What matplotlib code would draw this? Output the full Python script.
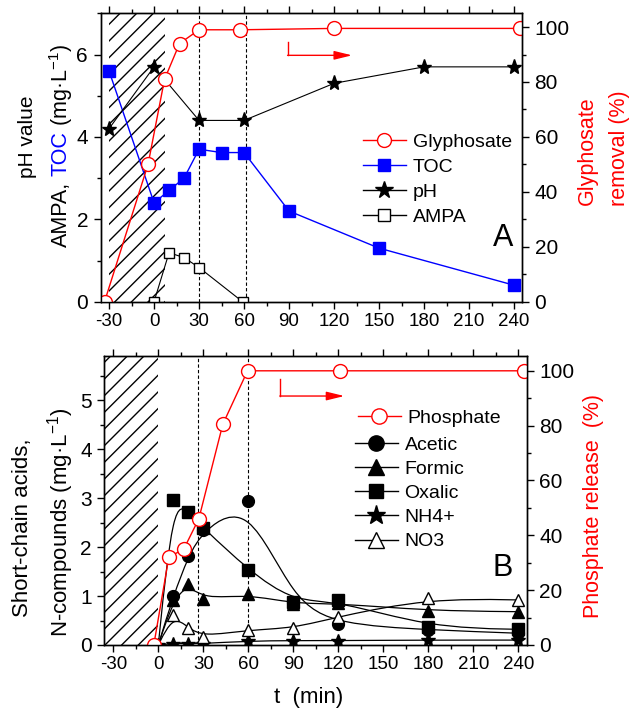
import matplotlib.pyplot as plt
from matplotlib.lines import Line2D
from matplotlib.path import Path
from matplotlib.patches import PathPatch

plt.rcParams['font.family'] = ['Liberation Sans', 'DejaVu Sans']
plt.rcParams['mathtext.fontset'] = 'custom'
plt.rcParams['mathtext.rm'] = 'Liberation Sans'
plt.rcParams['axes.unicode_minus'] = False
plt.rcParams['hatch.linewidth'] = 1.0

# ---- panel A data (t in min) ----
gly_t = [-33, -4, 7, 17, 30, 57.5, 120, 244]
gly_v = [0, 50, 81, 94, 99, 99, 99.5, 99.5]          # glyphosate removal %
toc_t = [-30, 0, 10, 20, 30, 45, 60, 90, 150, 240]
toc_v = [5.6, 2.4, 2.7, 3.0, 3.7, 3.62, 3.62, 2.2, 1.3, 0.4]
ph_t = [-30, 0, 30, 60, 120, 180, 240]
ph_v = [4.2, 5.7, 4.4, 4.4, 5.3, 5.7, 5.7]
ampa_t = [0, 10, 20, 30, 59]
ampa_v = [0, 1.19, 1.07, 0.83, 0]

# ---- panel B data ----
tb = [0, 10, 20, 30, 60, 90, 120, 180, 240]
acetic = [0, 1.0, 1.81, 2.35, 2.94, 0.88, 0.42, 0.31, 0.24]
formic = [0, 0.92, 1.25, 0.93, 1.04, 0.84, 0.85, 0.70, 0.68]
oxalic = [0, 2.97, 2.71, 2.39, 1.53, 0.88, 0.91, 0.36, 0.32]
nh4 = [0, 0.03, 0.03, 0.03, 0.08, 0.09, 0.09, 0.10, 0.10]
no3 = [0, 0.61, 0.35, 0.17, 0.31, 0.34, 0.58, 0.95, 0.92]
phos_t = [-3, 7, 17, 27, 43, 59.5, 121, 244]
phos_v = [0, 32, 35, 46, 80.5, 100, 100, 100]       # phosphate release %

W, H = 629, 713


def fx(x):
    return x / W


def fy(y):
    return 1 - y / H


def bspline(ax, x, y, **kw):
    # Origin-like B-spline connection, data points as control polygon
    p = [(x[0], y[0])] * 2 + list(zip(x, y)) + [(x[-1], y[-1])] * 2
    verts = [((p[0][0] + 4 * p[1][0] + p[2][0]) / 6, (p[0][1] + 4 * p[1][1] + p[2][1]) / 6)]
    codes = [Path.MOVETO]
    for i in range(len(p) - 3):
        a, b, c, d = p[i], p[i + 1], p[i + 2], p[i + 3]
        verts += [((2 * b[0] + c[0]) / 3, (2 * b[1] + c[1]) / 3),
                  ((b[0] + 2 * c[0]) / 3, (b[1] + 2 * c[1]) / 3),
                  ((b[0] + 4 * c[0] + d[0]) / 6, (b[1] + 4 * c[1] + d[1]) / 6)]
        codes += [Path.CURVE4] * 3
    ax.add_patch(PathPatch(Path(verts, codes), fill=False, **kw))


def style(ax, ax2, xlim, ylim, ymaj, ymin, rlim):
    ax.set_xlim(xlim)
    ax.set_ylim(ylim)
    ax2.set_ylim(rlim)
    ax.set_xticks(range(-30, 241, 30))
    ax.set_xticks(range(-30, 246, 15), minor=True)
    ax.set_yticks([i * ymaj for i in range(int(ylim[1] / ymaj) + 1)])
    ax.set_yticks([i * ymin for i in range(int(ylim[1] / ymin) + 1)], minor=True)
    ax2.set_yticks(range(0, 101, 20))
    ax2.set_yticks(range(0, 101, 10), minor=True)
    ax.tick_params(axis='x', which='both', direction='out', top=True, labelsize=13.5, pad=3)
    ax.tick_params(axis='y', which='both', direction='out', right=False, labelsize=15, pad=4)
    ax2.tick_params(axis='y', which='both', direction='out', labelsize=15, pad=4)
    for a in (ax, ax2):
        a.tick_params(which='major', length=5, width=1)
        a.tick_params(which='minor', length=3, width=1)
        for s in a.spines.values():
            s.set_linewidth(1)


def red_arrow(ax2, x0, x1, ytop, y):
    ax2.plot([x0, x0], [ytop, y], color='red', lw=1)
    ax2.annotate('', xy=(x1, y), xytext=(x0, y),
                 arrowprops=dict(arrowstyle='-|>,head_length=0.9,head_width=0.22', color='red',
                                 lw=1, mutation_scale=12, shrinkA=0, shrinkB=0))


fig = plt.figure(figsize=(W / 100, H / 100), dpi=100)

# ================= panel A =================
axA = fig.add_axes([fx(100.5), fy(301.7), 421.5 / W, 288.4 / H])
axA2 = axA.twinx()
style(axA, axA2, (-35.7, 245.3), (0, 7), 2, 1, (0, 105))

axA.axvspan(-30, 7, facecolor='none', edgecolor='black', hatch='//', lw=0, zorder=0)
for xv in (30, 61):
    axA.axvline(xv, color='black', ls=(0, (3, 2)), lw=0.8, zorder=1)

axA.plot(toc_t, toc_v, color='blue', lw=1, marker='s', ms=8, mfc='blue', mec='blue', zorder=3)
axA.plot(ph_t, ph_v, color='black', lw=0.8, marker='*', ms=11, zorder=3)
axA.plot(ampa_t, ampa_v, color='black', lw=0.8, marker='s', ms=7, mfc='white', mec='black', zorder=3)
axA2.plot(gly_t, gly_v, color='red', lw=1, marker='o', ms=10, mfc='white', mec='red', mew=1)
red_arrow(axA2, 89, 132, 94.5, 89.7)

hA = [Line2D([], [], color='red', lw=1, marker='o', ms=10, mfc='white', mec='red'),
      Line2D([], [], color='blue', lw=1, marker='s', ms=9, mfc='blue', mec='blue'),
      Line2D([], [], color='black', lw=1, marker='*', ms=13),
      Line2D([], [], color='black', lw=1, marker='s', ms=9, mfc='white', mec='black')]
axA2.legend(hA, ['Glyphosate', 'TOC', 'pH', 'AMPA'], loc='upper left',
            bbox_to_anchor=(fx(363), fy(133)), bbox_transform=fig.transFigure,
            frameon=False, fontsize=14, handlelength=2.2, handletextpad=0.35,
            labelspacing=0.39, borderpad=0, borderaxespad=0)
fig.text(fx(503), fy(238), 'A', fontsize=22, ha='center', va='center')

# left / right labels A
fig.text(fx(28), fy(137), 'pH value', rotation=90, fontsize=15, ha='center', va='center')
t1 = fig.text(fx(61), fy(247), 'AMPA,', rotation=90, fontsize=15.5, ha='center', va='bottom')
t2 = axA.annotate('TOC', xy=(0.5, 1), xycoords=t1, xytext=(0, 4), textcoords='offset points',
                  rotation=90, fontsize=15.5, ha='center', va='bottom', color='blue')
axA.annotate('(mg·L$^{-1}$)', xy=(0.5, 1), xycoords=t2, xytext=(0, 4), textcoords='offset points',
             rotation=90, fontsize=15.5, ha='center', va='bottom')
fig.text(fx(587), fy(151), 'Glyphosate', rotation=90, fontsize=15.5, color='red', ha='center', va='center')
fig.text(fx(619), fy(148), 'removal (%)', rotation=90, fontsize=15.5, color='red', ha='center', va='center')

# ================= panel B =================
axB = fig.add_axes([fx(104.3), fy(645), 422.4 / W, 289 / H])
axB2 = axB.twinx()
style(axB, axB2, (-36, 245.6), (0, 5.9), 1, 0.5, (0, 105.4))

axB.axvspan(-40, 0, facecolor='none', edgecolor='black', hatch='//', lw=0, zorder=0)
for xv in (26.3, 60):
    axB.axvline(xv, color='black', ls=(0, (3, 2)), lw=0.8, zorder=1)

for vals in (acetic, formic, oxalic, nh4, no3):
    bspline(axB, tb, vals, edgecolor='black', lw=0.9, zorder=2)
mk = dict(ls='none', color='black', zorder=3)
axB.plot(tb[1:], acetic[1:], marker='o', ms=8.5, **mk)
axB.plot(tb[1:], formic[1:], marker='^', ms=9, **mk)
axB.plot(tb[1:], oxalic[1:], marker='s', ms=8, **mk)
axB.plot(tb, nh4, marker='*', ms=10, **mk)
axB.plot(tb[1:], no3[1:], marker='^', ms=9, mfc='white', mec='black', **mk)
axB2.plot(phos_t, phos_v, color='red', lw=1, marker='o', ms=10, mfc='white', mec='red', mew=1)
red_arrow(axB2, 81, 124, 96.9, 90.8)

axB2.legend([Line2D([], [], color='red', lw=1, marker='o', ms=11, mfc='white', mec='red')],
            ['Phosphate'], loc='upper left', bbox_to_anchor=(fx(358), fy(409)),
            bbox_transform=fig.transFigure, frameon=False, fontsize=14, handlelength=2.2,
            handletextpad=0.35, borderpad=0, borderaxespad=0)
hB = [Line2D([], [], color='black', lw=1, marker='o', ms=11),
      Line2D([], [], color='black', lw=1, marker='^', ms=12),
      Line2D([], [], color='black', lw=1, marker='s', ms=10),
      Line2D([], [], color='black', lw=1, marker='*', ms=14),
      Line2D([], [], color='black', lw=1, marker='^', ms=12, mfc='white', mec='black')]
axB.legend(hB, ['Acetic', 'Formic', 'Oxalic', 'NH4+', 'NO3'], loc='upper left',
           bbox_to_anchor=(fx(355), fy(436)), bbox_transform=fig.transFigure,
           frameon=False, fontsize=14, handlelength=2.2, handletextpad=0.35,
           labelspacing=0.34, borderpad=0, borderaxespad=0)
fig.text(fx(503), fy(568), 'B', fontsize=22, ha='center', va='center')

fig.text(fx(23), fy(528), 'Short-chain acids,', rotation=90, fontsize=16, ha='center', va='center')
fig.text(fx(61), fy(522), 'N-compounds (mg·L$^{-1}$)', rotation=90, fontsize=16, ha='center', va='center')
fig.text(fx(593), fy(506), 'Phosphate release  (%)', rotation=90, fontsize=15.5, color='red',
         ha='center', va='center')
fig.text(fx(309), fy(698), 't  (min)', fontsize=16, ha='center', va='center')

fig.savefig('out.png', dpi=100)
